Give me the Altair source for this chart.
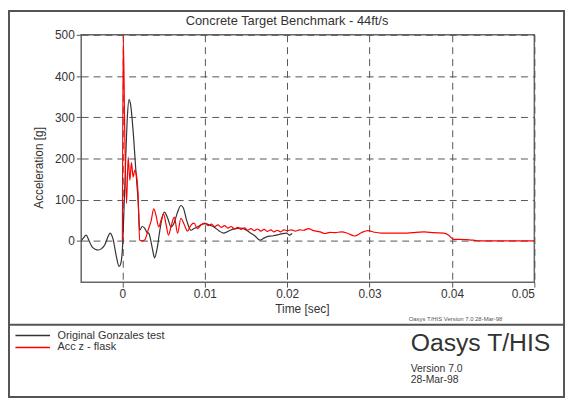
import altair as alt
import pandas as pd

# ---- data ----
series_names = ["Original Gonzales test", "Acc z - flask"]
series_colors = ["#333333", "#ff0000"]

t_test = [-0.0050, -0.0047, -0.0044, -0.0041, -0.0037, -0.0033, -0.0029, -0.0025,
          -0.0021, -0.0018, -0.0015, -0.0013, -0.0011, -0.0009, -0.0007, -0.0004,
          -0.0002, 0.0000, 0.0002, 0.0004, 0.0006, 0.0008, 0.0010, 0.0013, 0.0016,
          0.0019, 0.0021, 0.0024, 0.0027, 0.0030, 0.0032, 0.0034, 0.0037, 0.0039,
          0.0042, 0.0045, 0.0048, 0.0051, 0.0055, 0.0059, 0.0063, 0.0067, 0.0071,
          0.0074, 0.0078, 0.0083, 0.0087, 0.0091, 0.0096, 0.0101, 0.0106, 0.0111,
          0.0117, 0.0123, 0.0127, 0.0131, 0.0137, 0.0143, 0.0149, 0.0155, 0.0161,
          0.0167, 0.0171, 0.0175, 0.0181, 0.0187, 0.0193, 0.0199, 0.0203, 0.0206]
a_test = [0, 8, 14, 3, -14, -20, -22, -18,
          -8, 8, 19, 14, 2, -20, -41, -62,
          -55, -20, 80, 200, 300, 343, 330, 267, 180,
          98, 26, 35, 31, 20, 19, 5, -25, -41,
          -20, 20, 55, 70, 55, 34, 45, 70, 86,
          80, 50, 26, 30, 34, 40, 42, 38, 34,
          25, 19, 22, 26, 30, 31, 28, 20, 12,
          2, 6, 10, 12, 14, 17, 19, 14, 18]

t_flask = [0.0000, 0.0001, 0.0003, 0.0005, 0.0007, 0.0009, 0.0011, 0.0013, 0.0015,
           0.0017, 0.0019, 0.0021, 0.0024, 0.0027, 0.0031, 0.0035, 0.0038, 0.0041,
           0.0044, 0.0047, 0.0050, 0.0053, 0.0056, 0.0059, 0.0063, 0.0067, 0.0071,
           0.0075, 0.0079, 0.0083, 0.0087, 0.0091, 0.0095, 0.0100, 0.0104, 0.0108,
           0.0112, 0.0116, 0.0120, 0.0124, 0.0128, 0.0132, 0.0136, 0.0140, 0.0144,
           0.0148, 0.0152, 0.0156, 0.0160, 0.0164, 0.0168, 0.0172, 0.0176, 0.0180,
           0.0184, 0.0188, 0.0192, 0.0196, 0.0200, 0.0205, 0.0210, 0.0215, 0.0220,
           0.0226, 0.0232, 0.0240, 0.0246, 0.0252, 0.0258, 0.0266, 0.0274, 0.0282,
           0.0290, 0.0298, 0.0306, 0.0314, 0.0330, 0.0346, 0.0356, 0.0366, 0.0378,
           0.0390, 0.0396, 0.0402, 0.0410, 0.0418, 0.0426, 0.0434, 0.0450, 0.0500]
a_flask = [0, 500, 243, 91, 203, 147, 190, 155, 171,
           160, 115, 2, 0, 2, 25, 50, 78, 60,
           34, 50, 66, 40, 14, 35, 58, 19, 55,
           40, 24, 38, 43, 30, 38, 43, 37, 41,
           35, 39, 33, 37, 31, 35, 29, 33, 28,
           32, 26, 30, 25, 29, 24, 28, 23, 27,
           22, 26, 22, 27, 25, 27, 24, 27, 26,
           30, 25, 22, 18, 21, 20, 22, 18, 12,
           20, 25, 21, 19, 19, 19, 21, 22, 20,
           19, 14, 4, 4, 3, 2, 0, 0, 0]

x_ticks = [0, 0.01, 0.02, 0.03, 0.04, 0.05]
y_ticks = [0, 100, 200, 300, 400, 500]
title_text = "Concrete Target Benchmark - 44ft/s"
brand_lines = ["Oasys T/HIS", "Version 7.0", "28-Mar-98"]
small_stamp = "Oasys T/HIS  Version 7.0  28-Mar-98"

df = pd.concat([
    pd.DataFrame({"t": t_test, "a": a_test, "series": series_names[0],
                  "i": range(len(t_test))}),
    pd.DataFrame({"t": t_flask, "a": a_flask, "series": series_names[1],
                  "i": range(len(t_flask))}),
])

FONT = "Liberation Sans"
TXT = "#333333"
W, H = 458, 250

lines = alt.Chart(df).mark_line(strokeWidth=1.2, clip=True, interpolate="monotone").encode(
    x=alt.X("t:Q", scale=alt.Scale(domain=[-0.005, 0.05], nice=False, zero=False),
            axis=alt.Axis(values=x_ticks, format="~g", title="Time [sec]",
                          titleX=223, titleY=27, titleBaseline="middle",
                          titleAlign="center")),
    y=alt.Y("a:Q", scale=alt.Scale(domain=[-100, 500], nice=False, zero=False),
            axis=alt.Axis(values=y_ticks, title="Acceleration [g]",
                          titleX=-43, titleY=134, titleAngle=270,
                          titleBaseline="middle", titleAlign="center")),
    color=alt.Color("series:N",
                    scale=alt.Scale(domain=series_names, range=series_colors),
                    legend=alt.Legend(title=None, orient="none", legendX=-56,
                                      legendY=297, symbolType="M-3,0H3",
                                      symbolSize=136, symbolStrokeWidth=1.5,
                                      labelFontSize=11, labelOffset=18,
                                      labelColor=TXT, labelFont=FONT,
                                      rowPadding=0, padding=0)),
    order="i:Q",
)

title_df = pd.DataFrame({"label": [title_text]})
title_mark = alt.Chart(title_df).mark_text(
    fontSize=13, font=FONT, color=TXT, align="center", baseline="alphabetic"
).encode(x=alt.value(208), y=alt.value(-10), text="label:N")

frame = alt.Chart(pd.DataFrame({"k": [0]})).mark_rect(
    fill="transparent", stroke="#555555", strokeWidth=2
).encode(x=alt.value(-73), x2=alt.value(488), y=alt.value(-24), y2=alt.value(366))

sep = alt.Chart(pd.DataFrame({"k": [0]})).mark_rule(
    stroke="#555555", strokeWidth=2
).encode(x=alt.value(-73), x2=alt.value(488), y=alt.value(293))

brand_df = pd.DataFrame({"label": brand_lines})
brand_big = alt.Chart(brand_df.iloc[[0]]).mark_text(
    fontSize=25, font=FONT, color=TXT, align="left", baseline="alphabetic"
).encode(x=alt.value(333), y=alt.value(320), text="label:N")
brand_v = alt.Chart(brand_df.iloc[[1]]).mark_text(
    fontSize=10.5, font=FONT, color=TXT, align="left", baseline="alphabetic"
).encode(x=alt.value(333), y=alt.value(341), text="label:N")
brand_d = alt.Chart(brand_df.iloc[[2]]).mark_text(
    fontSize=10.5, font=FONT, color=TXT, align="left", baseline="alphabetic"
).encode(x=alt.value(333), y=alt.value(352), text="label:N")
stamp = alt.Chart(pd.DataFrame({"label": [small_stamp]})).mark_text(
    fontSize=6, font=FONT, color="#555555", align="left", baseline="alphabetic"
).encode(x=alt.value(331), y=alt.value(289), text="label:N")

chart = alt.layer(frame, sep, lines, title_mark, brand_big, brand_v, brand_d, stamp).properties(
    width=W, height=H,
    padding={"left": 74, "top": 25, "right": 32, "bottom": 118},
    autosize=alt.AutoSizeParams(type="none"),
    background="white",
).configure_view(
    stroke="#666666", strokeWidth=1.5
).configure_axis(
    labelFont=FONT, labelFontSize=12, labelColor=TXT, labelPadding=2,
    titleFont=FONT, titleFontSize=12, titleFontWeight="normal", titleColor=TXT,
    tickSize=5, tickColor="#555555", domain=False,
    grid=True, gridDash=[7, 5], gridColor="#555555", gridOpacity=1, gridWidth=1,
    zindex=1,
)

chart.save("out.html", embed_options={"renderer": "svg", "actions": False})
